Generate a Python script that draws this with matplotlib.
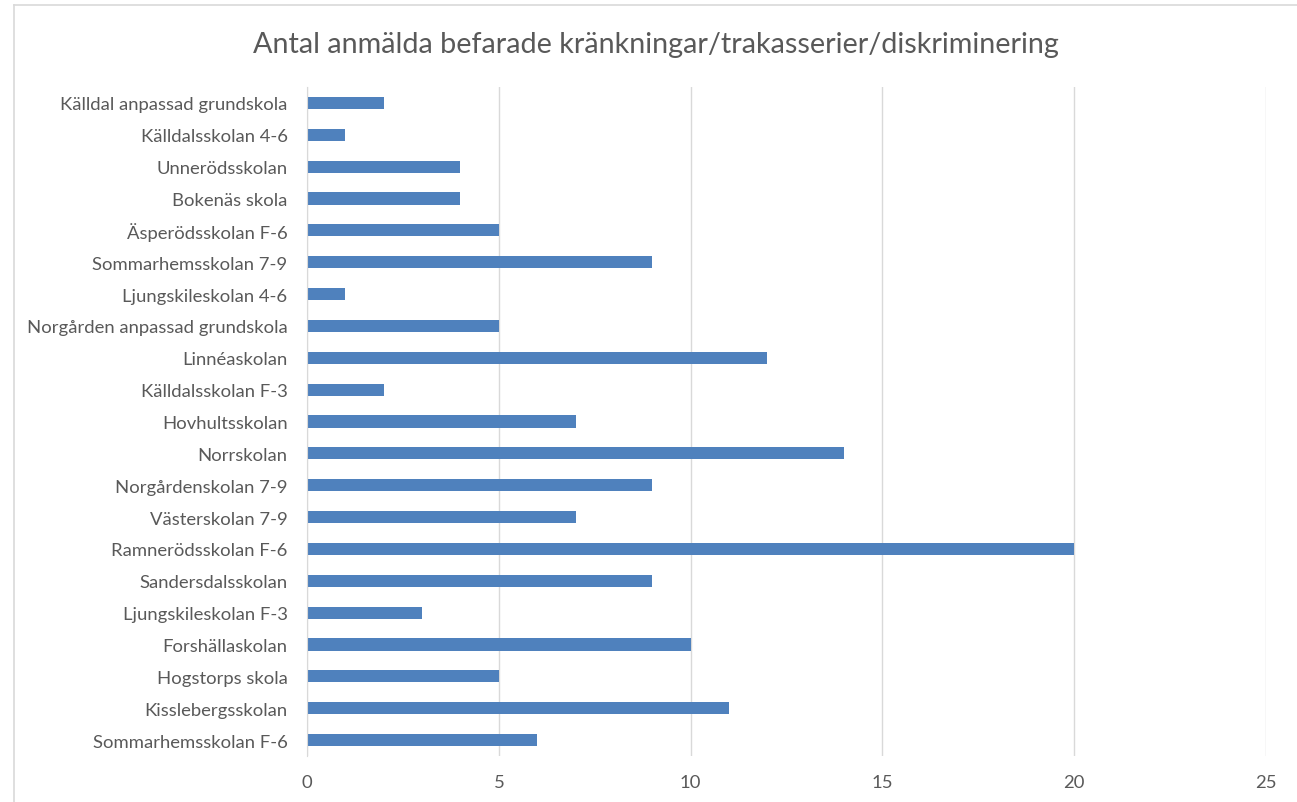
import matplotlib.pyplot as plt
from matplotlib.lines import Line2D

# schools, top to bottom as shown in the chart
schools = [
    "Källdal anpassad grundskola",
    "Källdalsskolan 4-6",
    "Unnerödsskolan",
    "Bokenäs skola",
    "Äsperödsskolan F-6",
    "Sommarhemsskolan 7-9",
    "Ljungskileskolan 4-6",
    "Norgården anpassad grundskola",
    "Linnéaskolan",
    "Källdalsskolan F-3",
    "Hovhultsskolan",
    "Norrskolan",
    "Norgårdenskolan 7-9",
    "Västerskolan 7-9",
    "Ramnerödsskolan F-6",
    "Sandersdalsskolan",
    "Ljungskileskolan F-3",
    "Forshällaskolan",
    "Hogstorps skola",
    "Kisslebergsskolan",
    "Sommarhemsskolan F-6",
]
counts = [2, 1, 4, 4, 5, 9, 1, 5, 12, 2, 7, 14, 9, 7, 20, 9, 3, 10, 5, 11, 6]
xticks = [0, 5, 10, 15, 20, 25]

title = "Antal anmälda befarade kränkningar/trakasserier/diskriminering"

plt.rcParams['font.family'] = ['Lato', 'DejaVu Sans']
txt = '#595959'

fig = plt.figure(figsize=(12.97, 8.03), dpi=100)
ax = fig.add_axes([307/1297, 1 - 757/803, (1266 - 307)/1297, (757 - 88)/803])

ypos = list(range(len(schools)))
ax.barh(ypos, counts, height=0.38, color='#4F81BD', zorder=3)

ax.set_ylim(len(schools) - 0.5, -0.5)
ax.set_xlim(0, 25)
ax.set_xticks(xticks)
ax.set_yticks(ypos)
ax.set_yticklabels(schools)
ax.tick_params(axis='y', length=0, pad=14, labelsize=13.3, labelcolor=txt)
ax.tick_params(axis='x', length=0, pad=13, labelsize=13.3, labelcolor=txt)
ax.grid(axis='x', color='#D9D9D9', lw=1, zorder=0)

for s in ['top', 'right', 'bottom']:
    ax.spines[s].set_visible(False)
ax.spines['left'].set_color('#D9D9D9')
ax.spines['left'].set_zorder(4)

fig.text(656/1297, 1 - 45/803, title, ha='center', va='center',
         fontsize=20.7, color=txt)

# chart area border (cropped at right and bottom)
fig.add_artist(Line2D([13.5/1297, 13.5/1297], [0, 1 - 6/803], color='#D9D9D9', lw=1.2))
fig.add_artist(Line2D([13.5/1297, 1], [1 - 6/803, 1 - 6/803], color='#D9D9D9', lw=1.2))

fig.savefig('out.png', dpi=100)
